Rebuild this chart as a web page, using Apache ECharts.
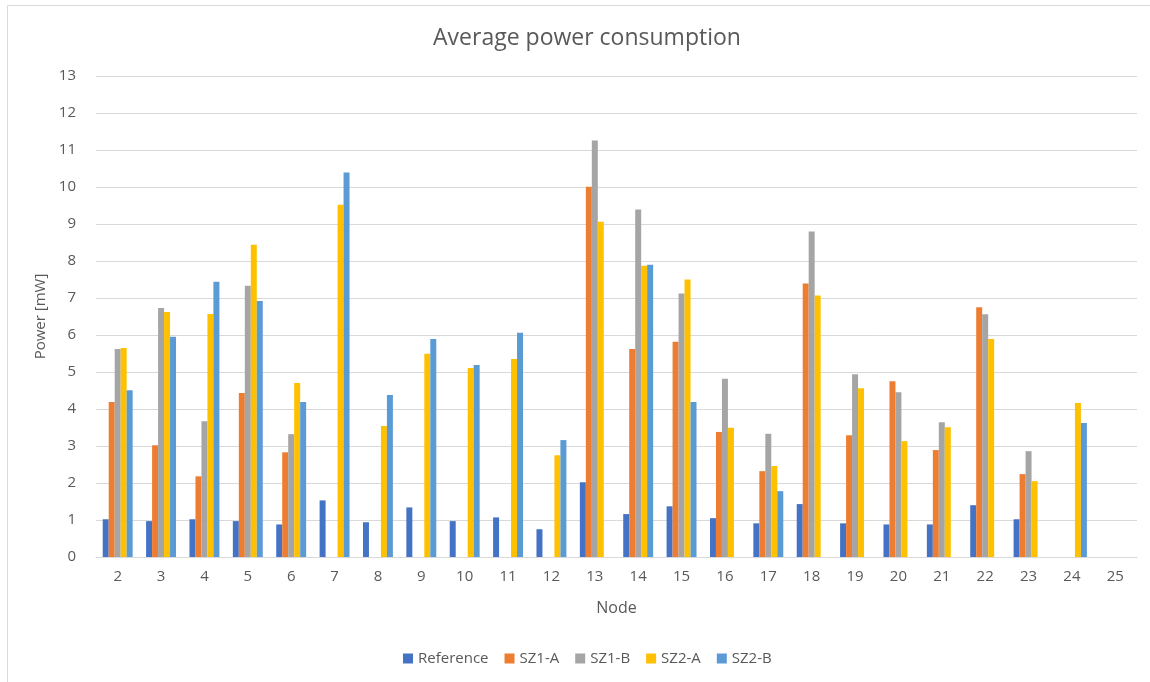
<!DOCTYPE html>
<html>
<head>
<meta charset="utf-8">
<script src="https://cdn.jsdelivr.net/npm/echarts@6/dist/echarts.min.js"></script>
<style>
  html, body { margin: 0; padding: 0; background: #fff; }
  #chart { width: 1150px; height: 682px; }
</style>
</head>
<body>
<div id="chart"></div>
<script>
// nodes on the x axis
var nodes = ["2", "3", "4", "5", "6", "7", "8", "9", "10", "11", "12", "13",
  "14", "15", "16", "17", "18", "19", "20", "21", "22", "23", "24", "25"];

// average power per node [mW], null = no bar
var reference = [1.02, 0.97, 1.02, 0.97, 0.88, 1.53, 0.94, 1.34, 0.97, 1.07, 0.75, 2.02,
  1.16, 1.37, 1.05, 0.91, 1.43, 0.91, 0.88, 0.88, 1.40, 1.02, null, null];
var sz1A = [4.19, 3.02, 2.18, 4.43, 2.83, null, null, null, null, null, null, 10.01,
  5.62, 5.82, 3.38, 2.32, 7.39, 3.29, 4.75, 2.89, 6.75, 2.24, null, null];
var sz1B = [5.62, 6.73, 3.67, 7.33, 3.32, null, null, null, null, null, null, 11.26,
  9.39, 7.12, 4.82, 3.33, 8.80, 4.94, 4.45, 3.64, 6.56, 2.86, null, null];
var sz2A = [5.65, 6.62, 6.57, 8.44, 4.70, 9.52, 3.54, 5.49, 5.11, 5.35, 2.75, 9.06,
  7.87, 7.50, 3.49, 2.46, 7.07, 4.56, 3.13, 3.51, 5.89, 2.05, 4.16, null];
var sz2B = [4.51, 5.95, 7.44, 6.92, 4.19, 10.39, 4.38, 5.89, 5.19, 6.06, 3.16, null,
  7.90, 4.19, null, 1.78, null, null, null, null, null, null, 3.62, null];

var seriesNames = ["Reference", "SZ1-A", "SZ1-B", "SZ2-A", "SZ2-B"];
var seriesData = [reference, sz1A, sz1B, sz2A, sz2B];
var colors = ["#4472C4", "#ED7D31", "#A5A5A5", "#FFC000", "#5B9BD5"];

var font = "'Open Sans', 'Noto Sans', sans-serif";
var textColor = "#595959";

var myChart = echarts.init(document.getElementById("chart"));

var series = seriesNames.map(function(name, i) {
  return {
    name: name,
    type: "bar",
    data: seriesData[i],
    barGap: "0%",
    barCategoryGap: "31%",
    itemStyle: { color: colors[i] }
  };
});

var option = {
  color: colors,
  animation: false,
  graphic: [{
    type: "rect",
    shape: { x: 7.5, y: 5.5, width: 1200, height: 800 },
    style: { fill: "none", stroke: "#D9D9D9", lineWidth: 1 },
    silent: true
  }],
  title: {
    text: "Average power consumption",
    left: 582,
    top: 22,
    textAlign: "center",
    textStyle: { fontFamily: font, fontSize: 23, fontWeight: "normal", color: textColor }
  },
  grid: { left: 96, right: 13, top: 76, bottom: 125 },
  legend: {
    bottom: 11,
    left: 398,
    itemWidth: 10,
    itemHeight: 10,
    itemGap: 16,
    icon: "rect",
    textStyle: { fontFamily: font, fontSize: 15, color: textColor }
  },
  xAxis: {
    type: "category",
    data: nodes,
    name: "Node",
    nameLocation: "middle",
    nameGap: 43,
    nameTextStyle: { fontFamily: font, fontSize: 16, color: textColor },
    axisLine: { lineStyle: { color: "#D9D9D9", width: 1 } },
    axisTick: { show: false },
    axisLabel: { fontFamily: font, fontSize: 15, color: textColor, margin: 12 }
  },
  yAxis: {
    type: "value",
    min: 0,
    max: 13,
    interval: 1,
    name: "Power [mW]",
    nameLocation: "middle",
    nameGap: 46,
    nameTextStyle: { fontFamily: font, fontSize: 15, color: textColor },
    axisLine: { show: false },
    axisTick: { show: false },
    axisLabel: { fontFamily: font, fontSize: 15, color: textColor, margin: 20 },
    splitLine: { lineStyle: { color: "#D9D9D9", width: 1 } }
  },
  series: series
};

myChart.setOption(option);
</script>
</body>
</html>
